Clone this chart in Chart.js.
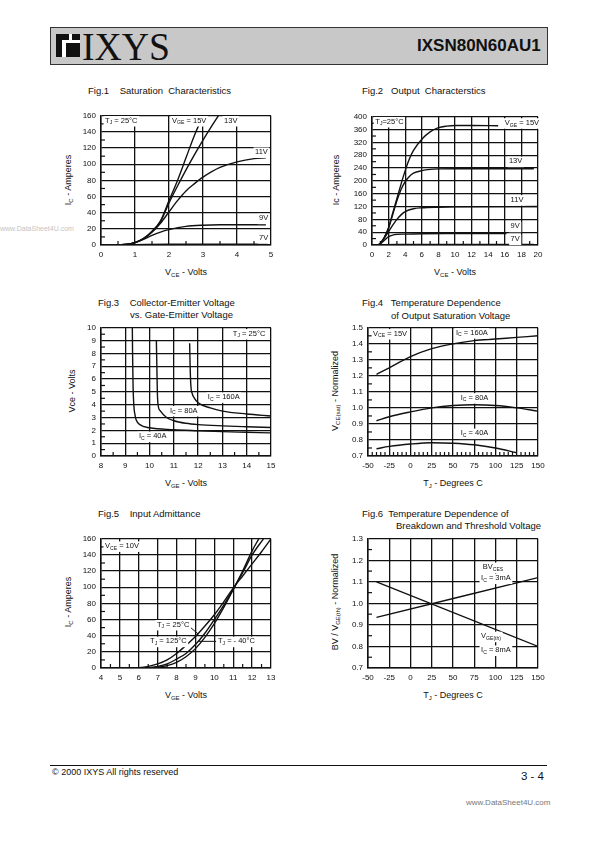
<!DOCTYPE html>
<html><head><meta charset="utf-8">
<script src="https://cdn.jsdelivr.net/npm/chart.js@4.4.1/dist/chart.umd.min.js"></script>
<style>
body{margin:0;width:595px;height:842px;position:relative;background:#fff;font-family:"Liberation Sans",Arial,sans-serif;color:#111;overflow:hidden}
.a{position:absolute;white-space:pre;line-height:1}
.t{font-size:9.5px}
.xt{font-size:9px;transform:translateX(-50%)}
.yt{font-size:9px;transform:translate(-50%,-50%) rotate(-90deg)}
sub{font-size:6px;vertical-align:-2px;line-height:0}
</style></head><body>

<!-- header -->
<div class="a" style="left:50px;top:27px;width:496px;height:36px;background:#c8c8c8;border:1px solid #333"></div>
<div class="a" style="left:56px;top:34px;width:24px;height:23px;background:#fff"></div>
<div class="a" style="left:56px;top:34px;width:6px;height:23px;background:#111"></div>
<div class="a" style="left:56px;top:34px;width:13px;height:6px;background:#111"></div>
<div class="a" style="left:66px;top:43px;width:14px;height:14px;background:#111"></div>
<div class="a" style="left:72px;top:34px;width:8px;height:6px;background:#111"></div>
<div class="a" style="left:82px;top:26px;font-family:'Liberation Serif',serif;font-size:41px;transform:scaleX(0.92);transform-origin:left">IXYS</div>
<div class="a" style="left:417px;top:37px;font-weight:bold;font-size:17px">IXSN80N60AU1</div>

<!-- watermark -->
<div class="a" style="left:0px;top:225px;font-size:7px;color:#c4c4c4">www.DataSheet4U.com</div>

<!-- titles -->
<div class="a t" style="left:88px;top:86px">Fig.1    Saturation  Characteristics</div>
<div class="a t" style="left:362px;top:86px">Fig.2   Output  Characterstics</div>
<div class="a t" style="left:98px;top:298px">Fig.3    Collector-Emitter Voltage</div>
<div class="a t" style="left:130px;top:310px">vs. Gate-Emitter Voltage</div>
<div class="a t" style="left:362px;top:298px">Fig.4   Temperature Dependence</div>
<div class="a t" style="left:391px;top:311px">of Output Saturation Voltage</div>
<div class="a t" style="left:98px;top:509px">Fig.5    Input Admittance</div>
<div class="a t" style="left:362px;top:509px">Fig.6  Temperature Dependence of</div>
<div class="a t" style="left:396px;top:521px">Breakdown and Threshold Voltage</div>

<!-- axis titles -->
<div class="a xt" style="left:186px;top:268px">V<sub>CE</sub> - Volts</div>
<div class="a xt" style="left:455px;top:268px">V<sub>CE</sub> - Volts</div>
<div class="a xt" style="left:186px;top:479px">V<sub>GE</sub> - Volts</div>
<div class="a xt" style="left:453px;top:479px">T<sub>J</sub> - Degrees C</div>
<div class="a xt" style="left:186px;top:691px">V<sub>GE</sub> - Volts</div>
<div class="a xt" style="left:453px;top:691px">T<sub>J</sub> - Degrees C</div>
<div class="a yt" style="left:68px;top:180px">I<sub>C</sub> - Amperes</div>
<div class="a yt" style="left:336px;top:180px">Ic - Amperes</div>
<div class="a yt" style="left:72px;top:391px">Vce - Volts</div>
<div class="a yt" style="left:335px;top:391px">V<sub>CE(sat)</sub> - Normalized</div>
<div class="a yt" style="left:68px;top:602px">I<sub>C</sub> - Amperes</div>
<div class="a yt" style="left:335px;top:602px">BV / V<sub>GE(th)</sub> - Normalized</div>

<!-- footer -->
<div class="a" style="left:50px;top:765px;width:497px;height:1px;background:#111"></div>
<div class="a" style="left:52px;top:768px;font-size:9px">© 2000 IXYS All rights reserved</div>
<div class="a" style="left:521px;top:771px;font-size:11.5px">3 - 4</div>
<div class="a" style="left:466px;top:799px;font-size:8px;color:#777">www.DataSheet4U.com</div>

<script>
// ---------- DATA ----------
// Fig.1 Saturation Characteristics: VCE (V) vs IC (A), TJ = 25°C
const f1XTicks = [0,1,2,3,4,5];
const f1YTicks = [0,20,40,60,80,100,120,140,160];
const f1_15V_x = [0.5,0.8,1.0,1.25,1.5,1.75,2.0,2.25,2.5,2.75,3.0];
const f1_15V_y = [0,1,3,8,17,30,55,80,108,136,160];
const f1_13V_x = [0.5,0.8,1.0,1.25,1.5,1.75,2.0,2.25,2.5,2.75,3.0,3.25,3.45];
const f1_13V_y = [0,1,3,8,16,29,52,73,93,112,130,147,160];
const f1_11V_x = [0.5,0.8,1.0,1.25,1.5,1.75,2.0,2.25,2.5,2.75,3.0,3.5,4.0,4.5,4.85];
const f1_11V_y = [0,1,3,8,16,27,41,55,67,76,84,96,103,107,108];
const f1_9V_x = [0.5,0.8,1.0,1.25,1.5,1.75,2.0,2.5,3.0,3.5,4.0,4.85];
const f1_9V_y = [0,1,3,7,12,16,19,23,24.5,25,25,25];
const f1_7V_x = [0.5,1.0,2.0,4.9];
const f1_7V_y = [0,0.5,1,1];

// Fig.2 Output Characteristics
const f2XTicks = [0,2,4,6,8,10,12,14,16,18,20];
const f2YTicks = [0,40,80,120,160,200,240,280,320,360,400];
const f2_15V_x = [0.7,1,1.5,2,2.5,3,3.5,4,4.5,5,6,7,8,9,10,12,15.2];
const f2_15V_y = [0,5,25,55,100,145,190,232,268,295,330,353,366,371,373,373,372];
const f2_13V_x = [0.7,1,1.5,2,2.5,3,3.5,4,4.5,5,6,7,8,10,19.5];
const f2_13V_y = [0,5,24,53,95,138,173,198,214,224,232,236,237.5,238,238];
const f2_11V_x = [0.7,1,1.5,2,2.5,3,3.5,4,5,6,8,10,20];
const f2_11V_y = [0,5,22,42,62,80,94,104,113,116,118,119,120];
const f2_9V_x = [0.7,1,1.5,2,2.5,3,4,6,10,16.2];
const f2_9V_y = [0,4,15,26,31,33,34,35,35.5,36];
const f2_7V_x = [0.7,1.5,3,19.5];
const f2_7V_y = [0,1,1.5,2];

// Fig.3 Collector-Emitter Voltage vs Gate-Emitter Voltage
const f3XTicks = [8,9,10,11,12,13,14,15];
const f3YTicks = [0,1,2,3,4,5,6,7,8,9,10];
const f3_40A_x = [9.29,9.3,9.32,9.35,9.4,9.45,9.6,10,11,12,13,14,15];
const f3_40A_y = [10,8,5.5,4,3.2,2.8,2.45,2.2,2.05,1.97,1.9,1.85,1.8];
const f3_80A_x = [10.28,10.3,10.32,10.35,10.45,10.7,11,11.5,12,13,14,15];
const f3_80A_y = [9.0,7,5,4,3.5,3.0,2.75,2.55,2.45,2.35,2.28,2.22];
const f3_160A_x = [11.65,11.67,11.7,11.75,11.85,12,12.5,13,14,15];
const f3_160A_y = [8.8,7,5.5,4.9,4.5,4.15,3.75,3.5,3.28,3.12];

// Fig.4 Temperature dependence of output saturation voltage
const f4XTicks = [-50,-25,0,25,50,75,100,125,150];
const f4YTicks = [0.7,0.8,0.9,1.0,1.1,1.2,1.3,1.4,1.5];
const f4_T = [-40,-25,0,25,50,75,100,125,150];
const f4_160A = [1.21,1.25,1.32,1.37,1.40,1.42,1.43,1.44,1.45];
const f4_80A = [0.92,0.945,0.975,1.0,1.015,1.02,1.015,1.0,0.98];
const f4_T40 = [-40,-25,0,25,50,75,100,125];
const f4_40A = [0.745,0.76,0.775,0.783,0.78,0.77,0.75,0.72];

// Fig.5 Input Admittance
const f5XTicks = [4,5,6,7,8,9,10,11,12,13];
const f5YTicks = [0,20,40,60,80,100,120,140,160];
const f5_125_x = [5.5,6,6.5,7,7.5,8,8.5,9,9.5,10,10.5,11,11.5,12,12.5,13];
const f5_125_y = [0,0.5,2,5,10,18,28,39,52,66,82,99,114,129,144,160];
const f5_25_x = [6,6.5,7,7.5,8,8.5,9,9.5,10,10.5,11,11.5,12,12.6];
const f5_25_y = [0,0.5,2,5,11,18,29,43,60,78,98,118,140,160];
const f5_m40_x = [6.3,7,7.5,8,8.5,9,9.5,10,10.5,11,11.5,12,12.35];
const f5_m40_y = [0,1,3,7,14,24,38,55,75,97,120,145,160];

// Fig.6 Temperature dependence of breakdown and threshold voltage
const f6XTicks = [-50,-25,0,25,50,75,100,125,150];
const f6YTicks = [0.7,0.8,0.9,1.0,1.1,1.2,1.3];
const f6_T = [-40,150];
const f6_BV = [0.935,1.12];
const f6_VGEth = [1.10,0.80];

// ---------- DRAWING ----------
const PL=34, PT=8, PR=14, PB=18;
const INK='#111';
function parseRich(s){
  const parts=[]; const re=/_\{([^}]*)\}/g; let last=0,m;
  while((m=re.exec(s))){ if(m.index>last) parts.push([s.slice(last,m.index),0]); parts.push([m[1],1]); last=re.lastIndex; }
  if(last<s.length) parts.push([s.slice(last),0]);
  return parts;
}
function fontFor(sub,size){ return (sub? (size*0.68).toFixed(1) : size)+'px "Liberation Sans", Arial, sans-serif'; }
function drawRich(ctx,s,x,y,size){
  const parts=parseRich(s); let w=0;
  parts.forEach(p=>{ctx.font=fontFor(p[1],size); w+=ctx.measureText(p[0]).width;});
  ctx.fillStyle='#fff'; ctx.fillRect(x-1.5,y-size*0.62,w+3,size*1.4);
  ctx.fillStyle=INK; ctx.textBaseline='middle'; ctx.textAlign='left';
  let cx=x;
  parts.forEach(p=>{ctx.font=fontFor(p[1],size); ctx.fillText(p[0],cx,y+(p[1]?size*0.3:0)); cx+=ctx.measureText(p[0]).width;});
}
function minorVals(min,max,step,major){
  const out=[]; if(!step) return out;
  const n=Math.round((max-min)/step);
  for(let i=1;i<n;i++){ const v=min+i*step; if(!major.some(m=>Math.abs(m-v)<step*1e-3)) out.push(v); }
  return out;
}
function makeChart(c){
  const W=c.w+PL+PR, H=c.h+PT+PB;
  const cv=document.createElement('canvas');
  cv.width=W; cv.height=H;
  cv.style.cssText=`position:absolute;left:${c.left-PL}px;top:${c.top-PT}px;width:${W}px;height:${H}px`;
  document.body.appendChild(cv);
  const fmt=c.dec? (v=>Number(v).toFixed(c.dec)) : (v=>String(v));
  const axis=(ticks,isX,f)=>({
    type:'linear',min:ticks[0],max:ticks[ticks.length-1],
    afterBuildTicks:s=>{s.ticks=ticks.map(v=>({value:v}));},
    afterFit:s=>{ if(isX) s.height=PB; else s.width=PL; },
    grid:{color:INK,lineWidth:1.3,drawTicks:false},
    border:{color:INK,width:1.5},
    ticks:{font:{family:'"Liberation Sans", Arial, sans-serif',size:8},color:INK,padding:5,maxRotation:0,autoSkip:false,callback:v=>f(v)}
  });
  new Chart(cv,{
    type:'line',
    data:{datasets:c.series.map(s=>({data:s[0].map((x,i)=>({x,y:s[1][i]})),borderColor:INK,borderWidth:1.4,pointRadius:0,cubicInterpolationMode:'monotone',fill:false}))},
    options:{
      responsive:false,animation:false,devicePixelRatio:1,
      layout:{padding:{left:0,top:PT,right:PR,bottom:0}},
      plugins:{legend:{display:false},tooltip:{enabled:false}},
      scales:{x:axis(c.xt,true,v=>String(v)), y:axis(c.yt,false,fmt)}
    },
    plugins:[{id:'deco',afterDatasetsDraw(ch){
      const ctx=ch.ctx, xs=ch.scales.x, ys=ch.scales.y, a=ch.chartArea;
      ctx.save(); ctx.strokeStyle=INK; ctx.lineWidth=1.2;
      minorVals(xs.min,xs.max,c.xm,c.xt).forEach(v=>{const p=xs.getPixelForValue(v); ctx.beginPath(); ctx.moveTo(p,a.bottom); ctx.lineTo(p,a.bottom-4); ctx.stroke();});
      minorVals(ys.min,ys.max,c.ym,c.yt).forEach(v=>{const p=ys.getPixelForValue(v); ctx.beginPath(); ctx.moveTo(a.left,p); ctx.lineTo(a.left+4,p); ctx.stroke();});
      ctx.lineWidth=1;
      (c.leaders||[]).forEach(l=>{ctx.beginPath(); ctx.moveTo(xs.getPixelForValue(l[0]),ys.getPixelForValue(l[1])); ctx.lineTo(xs.getPixelForValue(l[2]),ys.getPixelForValue(l[3])); ctx.stroke();});
      (c.notes||[]).forEach(n=>drawRich(ctx,n[2],xs.getPixelForValue(n[0]),ys.getPixelForValue(n[1]),7.5));
      ctx.restore();
    }}]
  });
}

makeChart({left:101,top:114,w:170,h:131,xt:f1XTicks,yt:f1YTicks,xm:0.5,ym:10,
  series:[[f1_15V_x,f1_15V_y],[f1_13V_x,f1_13V_y],[f1_11V_x,f1_11V_y],[f1_9V_x,f1_9V_y],[f1_7V_x,f1_7V_y]],
  notes:[[0.12,154,'T_{J} = 25°C'],[2.09,154,'V_{GE} = 15V'],[3.62,154,'13V'],[4.53,115,'11V'],[4.65,33,'9V'],[4.65,9,'7V']]});

makeChart({left:372,top:115,w:166,h:130,xt:f2XTicks,yt:f2YTicks,xm:1,ym:20,
  series:[[f2_15V_x,f2_15V_y],[f2_13V_x,f2_13V_y],[f2_11V_x,f2_11V_y],[f2_9V_x,f2_9V_y],[f2_7V_x,f2_7V_y]],
  notes:[[0.4,385,'T_{J}=25°C'],[16.0,381,'V_{GE} = 15V'],[16.5,261,'13V'],[16.7,141,'11V'],[16.7,58,'9V'],[16.7,18,'7V']]});

makeChart({left:101,top:326,w:170,h:130,xt:f3XTicks,yt:f3YTicks,xm:0.5,ym:0.5,
  series:[[f3_40A_x,f3_40A_y],[f3_80A_x,f3_80A_y],[f3_160A_x,f3_160A_y]],
  notes:[[13.43,9.54,'T_{J} = 25°C'],[12.4,4.6,'I_{C} = 160A'],[10.84,3.54,'I_{C} = 80A'],[9.56,1.54,'I_{C} = 40A']]});

makeChart({left:368,top:326,w:170,h:130,xt:f4XTicks,yt:f4YTicks,xm:5,ym:0.05,dec:1,
  series:[[f4_T,f4_160A],[f4_T,f4_80A],[f4_T40,f4_40A]],
  notes:[[-44,1.463,'V_{CE} = 15V'],[53.5,1.469,'I_{C} = 160A'],[59,1.063,'I_{C} = 80A'],[59,0.842,'I_{C} = 40A']]});

makeChart({left:101,top:537,w:170,h:131,xt:f5XTicks,yt:f5YTicks,xm:0.5,ym:10,
  series:[[f5_125_x,f5_125_y],[f5_25_x,f5_25_y],[f5_m40_x,f5_m40_y]],
  leaders:[[8.75,50,9.15,42],[9.15,33,10.1,33]],
  notes:[[4.21,151,'V_{CE} = 10V'],[6.96,53.7,'T_{J} = 25°C'],[6.6,33,'T_{J} = 125°C'],[10.19,33,'T_{J} = - 40°C']]});

makeChart({left:368,top:537,w:170,h:131,xt:f6XTicks,yt:f6YTicks,xm:0,ym:0.05,dec:1,
  series:[[f6_T,f6_BV],[f6_T,f6_VGEth]],
  notes:[[85,1.168,'BV_{CES}'],[83,1.117,'I_{C} = 3mA'],[83,0.847,'V_{GE(th)}'],[83,0.783,'I_{C} = 8mA']]});
</script>
</body></html>
